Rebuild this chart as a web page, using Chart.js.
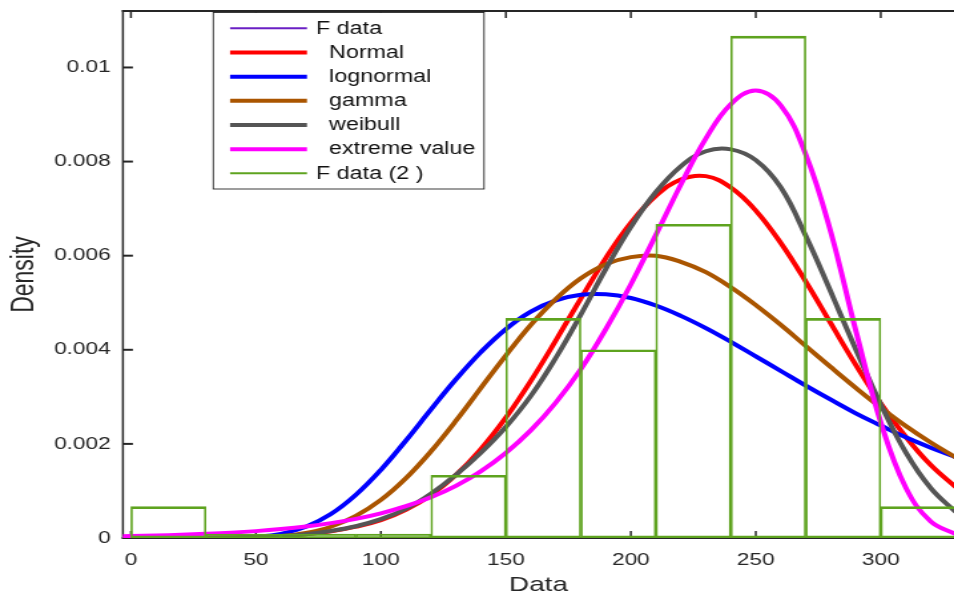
<!DOCTYPE html>
<html>
<head>
<meta charset="utf-8">
<script src="https://cdn.jsdelivr.net/npm/chart.js@4.4.0/dist/chart.umd.min.js"></script>
<style>
html,body{margin:0;padding:0;background:#ffffff;overflow:hidden;}
</style>
</head>
<body>
<canvas id="c" width="717" height="596" style="width:954px;height:596px;display:block;"></canvas>
<script>
// ---------- data ----------
const xGrid = [-10,0,10,20,30,40,50,60,70,80,90,100,110,120,130,140,150,160,170,180,190,200,210,220,230,240,250,260,270,280,290,300,310,320,330];

const normalPdf = [0,0,0,0.000003,0.000006,0.000012,0.000023,0.000044,0.00008,0.00014,0.00024,0.00038,0.0006,0.00091,0.00134,0.00189,0.00256,0.00334,0.0042,0.00509,0.00595,0.0067,0.00727,0.00762,0.00769,0.00745,0.00696,0.00627,0.00545,0.00456,0.00368,0.00286,0.00215,0.00155,0.00108];

const lognormalPdf = [0,0,0,0,0,0.000004,0.000025,0.000089,0.00024,0.00051,0.00092,0.00145,0.00207,0.00273,0.00337,0.00395,0.00444,0.00481,0.00505,0.00517,0.00518,0.0051,0.00494,0.00472,0.00446,0.00417,0.00386,0.00355,0.00324,0.00294,0.00265,0.00239,0.00214,0.00192,0.00172];

const gammaPdf = [0,0,0,0,0,0.000002,0.000011,0.000039,0.000107,0.00024,0.00047,0.00081,0.00127,0.00184,0.00249,0.00319,0.00388,0.00453,0.00508,0.00552,0.00582,0.00597,0.006,0.00587,0.00565,0.00533,0.00495,0.00453,0.00408,0.00363,0.00319,0.00277,0.00238,0.00203,0.00171];

const weibullPdf = [0,0,0,0,0.000002,0.000007,0.000018,0.00004,0.00008,0.00015,0.00025,0.0004,0.00062,0.00094,0.00134,0.00181,0.00236,0.00302,0.00383,0.00475,0.00572,0.00661,0.00735,0.0079,0.00822,0.00826,0.00803,0.00745,0.00642,0.00523,0.00401,0.00284,0.00182,0.00106,0.00055];

const extremePdf = [0.00003,0.00004,0.000052,0.000068,0.000088,0.000113,0.000146,0.000189,0.000244,0.000316,0.000407,0.000525,0.000676,0.000867,0.00111,0.00142,0.00181,0.00229,0.00288,0.00359,0.00444,0.00539,0.00644,0.00751,0.00849,0.00922,0.00951,0.00919,0.00815,0.0065,0.00441,0.00246,0.00107,0.00035,0.00008];

const binCenters = [15,45,75,105,135,165,195,225,255,285,315];
const binDensity = [0.000667,0,0,0,0.001333,0.004667,0.004,0.006667,0.010667,0.004667,0.000667];

const xTickLabels = ['0','50','100','150','200','250','300'];
const yTickLabels = ['0','0.002','0.004','0.006','0.008','0.01'];

const seriesNames = ['F data','Normal','lognormal','gamma','weibull','extreme value','F data (2 )'];

// ---------- styling ----------
const FONT = "'Liberation Sans', Arial, Helvetica, sans-serif";
const INK = '#262626';
const colors = {
  fdata: '#6a1fc4', normal: '#ff0000', lognormal: '#0000ff', gamma: '#aa5500',
  weibull: '#555555', extreme: '#ff00ff', hist: '#5ea31f'
};

function pts(arr) { return xGrid.map((x, i) => ({x: x, y: arr[i]})); }

function curve(label, arr, color, order) {
  return {
    type: 'line', label: label, data: pts(arr),
    borderColor: color, backgroundColor: color, borderWidth: 4,
    pointRadius: 0, fill: false, tension: 0.4, order: order
  };
}

const datasets = [
  {
    type: 'bar', label: seriesNames[6],
    data: binCenters.map((x, i) => ({x: x, y: binDensity[i]})),
    backgroundColor: 'rgba(0,0,0,0)', borderColor: colors.hist,
    borderWidth: {top: 2, bottom: 2, left: 1, right: 1},
    borderSkipped: false, barPercentage: 1, categoryPercentage: 1,
    minBarLength: 4, order: 0
  },
  curve(seriesNames[5], extremePdf, colors.extreme, 1),
  curve(seriesNames[4], weibullPdf, colors.weibull, 2),
  curve(seriesNames[3], gammaPdf, colors.gamma, 3),
  curve(seriesNames[2], lognormalPdf, colors.lognormal, 4),
  curve(seriesNames[1], normalPdf, colors.normal, 5),
  { type: 'line', label: seriesNames[0], data: [], borderColor: colors.fdata, borderWidth: 2, pointRadius: 0, order: 6 }
];

// legend entries in reference order
const legendEntries = [
  {name: seriesNames[0], color: colors.fdata, width: 2, indent: 0},
  {name: seriesNames[1], color: colors.normal, width: 4, indent: 1},
  {name: seriesNames[2], color: colors.lognormal, width: 4, indent: 1},
  {name: seriesNames[3], color: colors.gamma, width: 4, indent: 1},
  {name: seriesNames[4], color: colors.weibull, width: 4, indent: 1},
  {name: seriesNames[5], color: colors.extreme, width: 4, indent: 1},
  {name: seriesNames[6], color: colors.hist, width: 2, indent: 0}
];

function seg(ctx, x1, y1, x2, y2) { ctx.beginPath(); ctx.moveTo(x1, y1); ctx.lineTo(x2, y2); ctx.stroke(); }

const framePlugin = {
  id: 'frame',
  beforeDatasetsDraw(chart) {
    const {ctx, chartArea: a, scales} = chart;
    const xs = scales.x, ys = scales.y;
    ctx.save();
    ctx.strokeStyle = INK;
    ctx.lineCap = 'butt';
    ctx.lineWidth = 1.5;
    xs.ticks.forEach(t => {
      const px = xs.getPixelForValue(t.value);
      seg(ctx, px, a.bottom, px, a.bottom - 7);
      seg(ctx, px, a.top, px, a.top + 7);
    });
    ctx.lineWidth = 2;
    ys.ticks.forEach(t => {
      const py = ys.getPixelForValue(t.value);
      seg(ctx, a.left, py, a.left + 7.5, py);
    });
    ctx.lineWidth = 2;
    seg(ctx, a.left - 0.75, a.bottom, a.right, a.bottom);
    seg(ctx, a.left - 0.75, a.top, a.right, a.top);
    ctx.lineWidth = 1.5;
    seg(ctx, a.left, a.top - 1, a.left, a.bottom + 1);
    ctx.restore();
  }
};

const legendPlugin = {
  id: 'boxLegend',
  afterDraw(chart) {
    const ctx = chart.ctx;
    const x0 = 160.3, y0 = 12.5, x1 = 363.8, y1 = 189;
    ctx.save();
    ctx.fillStyle = '#ffffff';
    ctx.fillRect(x0, y0, x1 - x0, y1 - y0);
    ctx.strokeStyle = INK;
    ctx.lineWidth = 0.9;
    ctx.strokeRect(x0, y0, x1 - x0, y1 - y0);
    ctx.font = '17.5px ' + FONT;
    ctx.textBaseline = 'middle';
    ctx.textAlign = 'left';
    legendEntries.forEach((e, i) => {
      const yy = 28.3 + i * 24.17;
      ctx.strokeStyle = e.color;
      ctx.lineWidth = e.width;
      seg(ctx, 172.9, yy, 230.7, yy);
      ctx.fillStyle = '#111111';
      ctx.fillText(e.name, 237.5 + e.indent * 9.8, yy + 0.5);
    });
    ctx.restore();
  }
};

new Chart(document.getElementById('c'), {
  type: 'line',
  data: { datasets: datasets },
  plugins: [framePlugin, legendPlugin],
  options: {
    responsive: false,
    devicePixelRatio: 1,
    animation: false,
    layout: { padding: {top: 11, left: 0, right: 0, bottom: 0} },
    plugins: { legend: {display: false}, tooltip: {enabled: false}, title: {display: false} },
    scales: {
      x: {
        type: 'linear', min: -3.2, max: 329.3, offset: false,
        grid: {display: false, drawTicks: false}, border: {display: false},
        ticks: {
          stepSize: 50, includeBounds: false, padding: 11.8, maxRotation: 0, autoSkip: false,
          color: INK, font: {family: FONT, size: 17},
          callback: v => { const i = Math.round(v / 50); return (Math.abs(v - i * 50) < 1e-6 && xTickLabels[i] !== undefined) ? xTickLabels[i] : ''; }
        },
        title: { display: true, text: 'Data', color: INK, font: {family: FONT, size: 21, lineHeight: 1}, padding: {top: 0, bottom: 0.5} },
        afterFit: s => { s.height = 58; s.paddingLeft = 0; s.paddingRight = 0; }
      },
      y: {
        type: 'linear', min: 0, max: 0.0112,
        grid: {display: false, drawTicks: false}, border: {display: false},
        ticks: {
          stepSize: 0.002, includeBounds: false, padding: 9.2,
          color: INK, font: {family: FONT, size: 17},
          callback: v => { const i = Math.round(v / 0.002); return (Math.abs(v - i * 0.002) < 1e-9 && yTickLabels[i] !== undefined) ? yTickLabels[i] : ''; }
        },
        title: { display: true, text: 'Density', color: INK, font: {family: FONT, size: 23, lineHeight: 1.2}, padding: {top: 5, bottom: 0} },
        afterFit: s => { s.width = 92.4; s.paddingTop = 0; s.paddingBottom = 0; }
      }
    }
  }
});
</script>
</body>
</html>
